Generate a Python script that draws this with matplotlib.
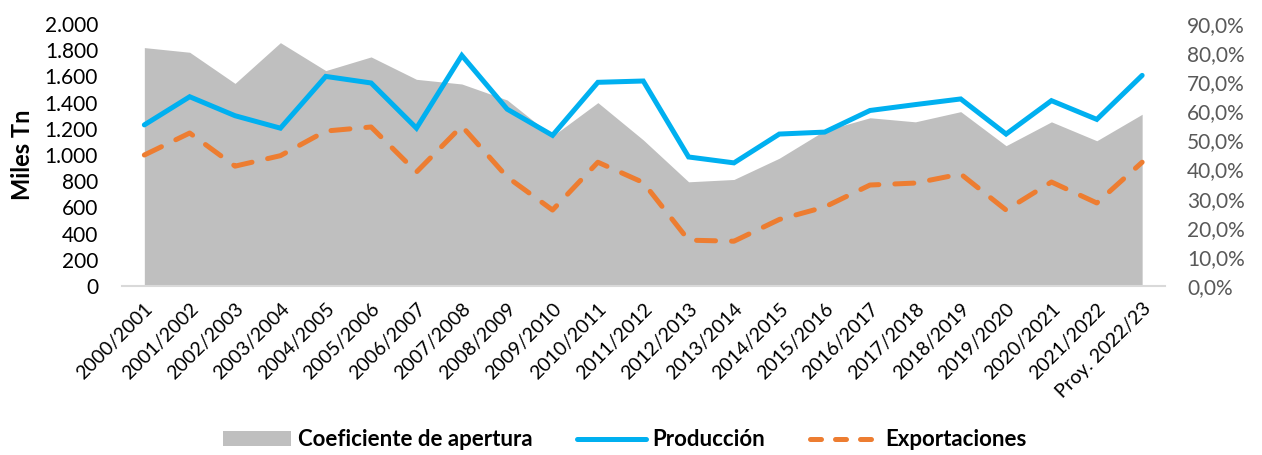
import matplotlib
matplotlib.use("Agg")
import matplotlib.pyplot as plt
from matplotlib.ticker import FuncFormatter, MultipleLocator
from matplotlib.patches import Patch
from matplotlib.lines import Line2D

plt.rcParams['font.family'] = ['Lato', 'DejaVu Sans']

# campañas
campanias = ["2000/2001", "2001/2002", "2002/2003", "2003/2004", "2004/2005",
             "2005/2006", "2006/2007", "2007/2008", "2008/2009", "2009/2010",
             "2010/2011", "2011/2012", "2012/2013", "2013/2014", "2014/2015",
             "2015/2016", "2016/2017", "2017/2018", "2018/2019", "2019/2020",
             "2020/2021", "2021/2022", "Proy. 2022/23"]

# miles de toneladas
produccion = [1230, 1445, 1300, 1205, 1600, 1550, 1205, 1760, 1350, 1150,
              1555, 1565, 985, 940, 1160, 1175, 1340, 1385, 1428, 1160,
              1415, 1272, 1608]
exportaciones = [1000, 1168, 915, 995, 1183, 1214, 870, 1221, 832, 580,
                 945, 790, 350, 342, 508, 603, 771, 786, 855, 580,
                 794, 634, 945]

# coeficiente de apertura (%)
coeficiente = [81.9, 80.3, 69.6, 83.6, 74.0, 78.7, 71.0, 69.4, 63.9, 51.5,
               63.0, 50.2, 35.8, 36.6, 43.9, 53.4, 57.8, 56.4, 59.9, 48.2,
               56.4, 49.9, 59.0]

GRIS = "#BFBFBF"
AZUL = "#00B0F0"
NARANJA = "#ED7D31"

fig = plt.figure(figsize=(12.62, 4.55), dpi=100)
ax = fig.add_axes([0.0964, 0.3714, 0.8266, 0.5758])
ax2 = ax.twinx()

x = list(range(len(campanias)))

ax2.fill_between(x, 0, coeficiente, color=GRIS, linewidth=0)
ax.plot(x, produccion, color=AZUL, lw=3.6, solid_joinstyle='miter',
        solid_capstyle='round')
ax.plot(x, exportaciones, color=NARANJA, lw=3.6, dashes=(3.8, 3.2),
        dash_capstyle='round')

# lineas por encima del area
ax.set_zorder(ax2.get_zorder() + 1)
ax.patch.set_visible(False)

ax.set_xlim(-0.5, len(campanias) - 0.5)
ax.set_ylim(0, 2000)
ax2.set_ylim(0, 90)
ax.yaxis.set_major_locator(MultipleLocator(200))
ax2.yaxis.set_major_locator(MultipleLocator(10))
ax.yaxis.set_major_formatter(FuncFormatter(lambda v, p: f"{v:,.0f}".replace(",", ".")))
ax2.yaxis.set_major_formatter(FuncFormatter(lambda v, p: f"{v:.1f}%".replace(".", ",")))

for a in (ax, ax2):
    for s in a.spines.values():
        s.set_visible(False)
    a.tick_params(length=0)
ax.spines['bottom'].set_visible(True)
ax.spines['bottom'].set_color("#D9D9D9")
ax.spines['bottom'].set_linewidth(1.5)

ax.tick_params(axis='y', labelsize=15, labelcolor="black", pad=17)
ax2.tick_params(axis='y', labelsize=15, labelcolor="#595959", pad=16)

ax.set_xticks(x)
ax.set_xticklabels(campanias, rotation=45, ha='right', rotation_mode='anchor',
                   fontsize=14)
ax.tick_params(axis='x', pad=10)

ax.set_ylabel("Miles Tn", fontsize=17, fontweight='bold', labelpad=8)

handles = [Patch(facecolor=GRIS, edgecolor='none'),
           Line2D([], [], color=AZUL, lw=3.6, solid_capstyle='round'),
           Line2D([], [], color=NARANJA, lw=3.6, dashes=(2.2, 2.8),
                  dash_capstyle='round')]
fig.legend(handles, ["Coeficiente de apertura", "Producción", "Exportaciones"],
           loc='center', bbox_to_anchor=(0.495, 0.033), ncol=3, frameon=False,
           prop={'size': 16, 'weight': 'bold'}, handlelength=3.1,
           handleheight=0.7, columnspacing=2.0, handletextpad=0.3)

fig.savefig("out.png", dpi=100)
